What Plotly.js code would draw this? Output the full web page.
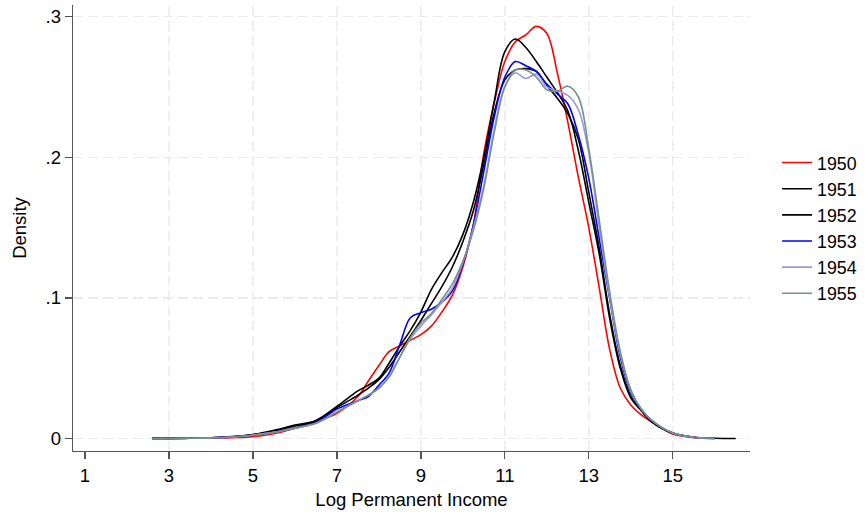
<!DOCTYPE html>
<html>
<head>
<meta charset="utf-8">
<script src="https://cdn.plot.ly/plotly-3.0.1.min.js"></script>
<style>html,body{margin:0;padding:0;background:#fff;}#chart{width:868px;height:514px;}</style>
</head>
<body>
<div id="chart"></div>
<script>
// Log permanent income grid
const xGrid = [2.6, 3, 3.5, 4, 4.5, 5, 5.5, 6, 6.5, 7, 7.5, 7.75, 8, 8.25, 8.5, 8.75, 9, 9.25, 9.5, 9.75,
  10, 10.25, 10.5, 10.75, 11, 11.25, 11.5, 11.75, 12, 12.25, 12.5, 12.75, 13, 13.25, 13.5, 13.75,
  14, 14.25, 14.5, 15, 15.5, 16, 16.5];

const years = ["1950", "1951", "1952", "1953", "1954", "1955"];

const d1950 = [0.0002, 0.0002, 0.0003, 0.0005, 0.0008, 0.0015, 0.0035, 0.0075, 0.012, 0.018, 0.030, 0.041,
  0.052, 0.062, 0.066, 0.070, 0.074, 0.080, 0.090, 0.102, 0.122, 0.152, 0.203, 0.239, 0.268, 0.282,
  0.287, 0.293, 0.288, 0.260, 0.225, 0.186, 0.150, 0.107, 0.063, 0.036, 0.024, 0.017, 0.012, 0.0033,
  0.0008, 0.0002, null];
const d1951 = [0.0002, 0.0002, 0.0004, 0.0007, 0.0015, 0.003, 0.006, 0.0097, 0.013, 0.023, 0.034, 0.038,
  0.043, 0.054, 0.066, 0.077, 0.090, 0.106, 0.118, 0.129, 0.145, 0.168, 0.200, 0.240, 0.275, 0.284,
  0.278, 0.268, 0.257, 0.246, 0.233, 0.205, 0.168, 0.131, 0.085, 0.050, 0.029, 0.020, 0.012, 0.004,
  0.001, 0.0003, 0.0001];
const d1952 = [0.0002, 0.0002, 0.0004, 0.0007, 0.0014, 0.0028, 0.0055, 0.009, 0.0125, 0.022, 0.031, 0.036,
  0.042, 0.051, 0.062, 0.073, 0.084, 0.096, 0.108, 0.122, 0.140, 0.162, 0.195, 0.232, 0.255, 0.262,
  0.263, 0.261, 0.251, 0.242, 0.231, 0.213, 0.175, 0.135, 0.088, 0.052, 0.030, 0.020, 0.012, 0.004,
  0.001, 0.0003, null];
const d1953 = [0.0001, 0.0001, 0.0003, 0.0006, 0.0012, 0.0025, 0.0045, 0.0075, 0.0115, 0.021, 0.027, 0.030,
  0.038, 0.047, 0.067, 0.086, 0.0895, 0.092, 0.097, 0.105, 0.124, 0.152, 0.190, 0.229, 0.257, 0.268,
  0.265, 0.261, 0.252, 0.245, 0.238, 0.216, 0.185, 0.142, 0.099, 0.058, 0.033, 0.021, 0.013, 0.004,
  0.001, 0.0002, null];
const d1954 = [0.0001, 0.0001, 0.0003, 0.0006, 0.0012, 0.0025, 0.0045, 0.0075, 0.011, 0.019, 0.027, 0.031,
  0.036, 0.045, 0.058, 0.071, 0.080, 0.088, 0.097, 0.107, 0.125, 0.150, 0.180, 0.220, 0.250, 0.260,
  0.256, 0.259, 0.250, 0.247, 0.244, 0.234, 0.203, 0.150, 0.100, 0.060, 0.034, 0.021, 0.013, 0.004,
  0.001, 0.0002, null];
const d1955 = [0.0001, 0.0001, 0.0003, 0.0006, 0.0012, 0.0025, 0.0045, 0.0075, 0.011, 0.019, 0.027, 0.031,
  0.036, 0.044, 0.058, 0.072, 0.082, 0.089, 0.099, 0.110, 0.126, 0.148, 0.178, 0.218, 0.250, 0.262,
  0.262, 0.257, 0.248, 0.247, 0.2505, 0.243, 0.206, 0.155, 0.104, 0.062, 0.035, 0.021, 0.013, 0.004,
  0.001, 0.0002, null];

const xTicks = [1, 3, 5, 7, 9, 11, 13, 15];
const xGridLines = [3, 5, 7, 9, 11, 13, 15];
const yTicks = [0, 0.1, 0.2, 0.3];
const yTickText = ["0", ".1", ".2", ".3"];

const series = [d1950, d1951, d1952, d1953, d1954, d1955];
const colors = ["#ff0000", "#000000", "#000000", "#0000ff", "#9a9ad8", "#76918b"];

const FONT = "Liberation Sans, Arial, Helvetica, sans-serif";

const traces = series.map((ys, i) => ({
  type: "scatter",
  mode: "lines",
  x: xGrid,
  y: ys,
  name: years[i],
  line: {color: colors[i], width: 1.6, shape: "spline", smoothing: 1},
  connectgaps: false
}));

const shapes = xGridLines.map(v => ({
  type: "line", xref: "x", yref: "paper", x0: v, x1: v, y0: 0, y1: 1,
  layer: "below", line: {color: "#ebebeb", width: 1.5, dash: "10px,5px"}
}));

const layout = {
  width: 868, height: 514,
  margin: {l: 73, r: 118, t: 5, b: 63},
  paper_bgcolor: "#ffffff",
  plot_bgcolor: "#ffffff",
  font: {family: FONT, size: 18.5, color: "#000000"},
  showlegend: true,
  legend: {x: 1.04, xanchor: "left", y: 0.5, yanchor: "middle", font: {size: 17.8},
    bgcolor: "rgba(0,0,0,0)", borderwidth: 0},
  xaxis: {
    range: [0.714, 16.84], tickvals: xTicks, ticks: "outside", ticklen: 7, tickwidth: 1.3,
    tickcolor: "#555555", showline: true, linecolor: "#555555", linewidth: 1.3,
    showgrid: false, zeroline: false,
    title: {text: "Log Permanent Income", font: {size: 18.5}, standoff: 8}
  },
  yaxis: {
    range: [-0.00874, 0.3082], tickvals: yTicks, ticktext: yTickText, ticks: "outside", ticklen: 7,
    tickwidth: 1.3, tickcolor: "#555555", showline: true, linecolor: "#555555", linewidth: 1.3,
    showgrid: true, gridcolor: "#ebebeb", gridwidth: 1.5, griddash: "10px,5px", zeroline: false,
    title: {text: "Density", font: {size: 18.5}}
  },
  shapes: shapes
};

Plotly.newPlot("chart", traces, layout, {displayModeBar: false, staticPlot: true});
</script>
</body>
</html>
